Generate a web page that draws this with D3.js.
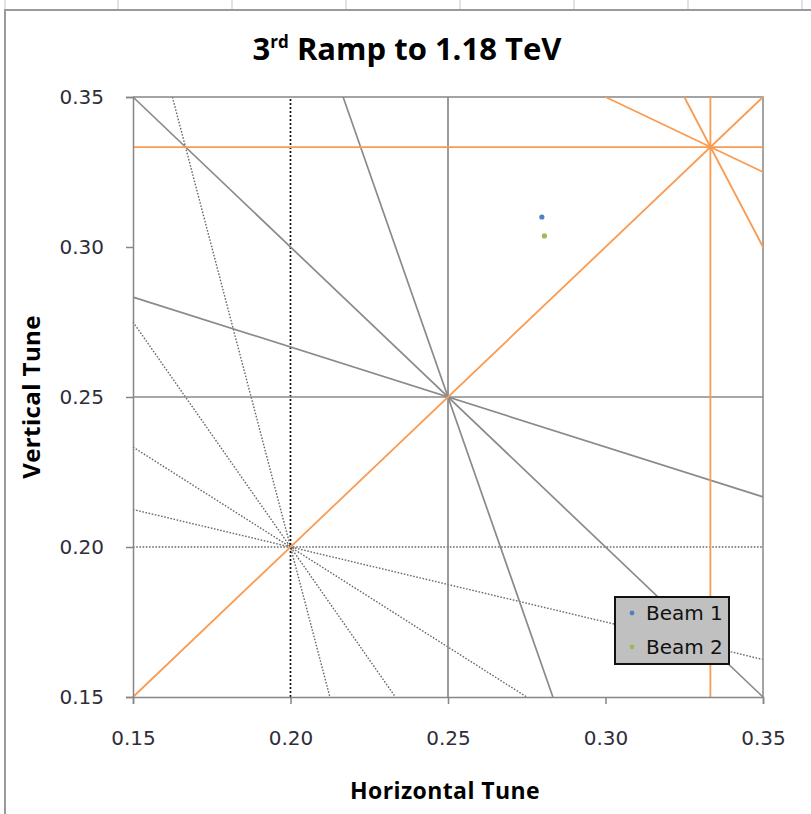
<!DOCTYPE html>
<html>
<head>
<meta charset="utf-8">
<script src="https://cdn.jsdelivr.net/npm/d3@7"></script>
<style>
  body { margin: 0; background: #fff; }
  svg { display: block; }
  .tick text { font-family: "DejaVu Sans", Verdana, sans-serif; font-size: 20px; fill: #2e2e3a; }
  .axes path, .axes line { stroke: #868686; stroke-width: 1.5px; }
</style>
</head>
<body>
<svg id="chart"></svg>
<script>
// axis ticks
var xTicks = [0.15, 0.20, 0.25, 0.30, 0.35];
var yTicks = [0.15, 0.20, 0.25, 0.30, 0.35];

// resonance lines, endpoints [x1, y1, x2, y2]
// 4th order through (0.25, 0.25), solid grey
var grayLines = [
  [0.25, 0.15, 0.25, 0.35],
  [0.15, 0.25, 0.35, 0.25],
  [0.15, 0.35, 0.35, 0.15],
  [0.15, 0.2833, 0.35, 0.2167],
  [0.2167, 0.35, 0.2833, 0.15]
];
// 5th order through (0.20, 0.20), dotted
var dotLines = [
  [0.15, 0.20, 0.35, 0.20],
  [0.1625, 0.35, 0.2125, 0.15],
  [0.15, 0.275, 0.2333, 0.15],
  [0.15, 0.2333, 0.275, 0.15],
  [0.15, 0.2125, 0.35, 0.1625]
];
var dotVertical = [[0.20, 0.15, 0.20, 0.35]];
// 3rd order through (1/3, 1/3), orange
var orangeLines = [
  [0.15, 0.15, 0.35, 0.35],
  [0.15, 0.3333, 0.35, 0.3333],
  [0.3333, 0.15, 0.3333, 0.35],
  [0.30, 0.35, 0.35, 0.325],
  [0.325, 0.35, 0.35, 0.30]
];

// measured tunes
var beams = ['Beam 1', 'Beam 2'];
var beamColors = ['#4F81BD', '#9BBB59'];
var qh = [0.2798, 0.2806];
var qv = [0.3100, 0.3037];

var W = 811, H = 814;
var margin = {top: 97, right: 48, bottom: 117, left: 133};
var width = W - margin.left - margin.right;
var height = H - margin.top - margin.bottom;

var root = d3.select('#chart')
    .attr('width', W)
    .attr('height', H);

// spreadsheet cell lines above the chart and the chart frame
var cols = [5, 118, 232, 346, 460, 574, 688, 802];
root.selectAll('.cell').data(cols).enter().append('line')
    .attr('x1', d => d).attr('x2', d => d)
    .attr('y1', 0).attr('y2', 9)
    .attr('stroke', '#d4d8e2').attr('stroke-width', 1.5);
root.append('path')
    .attr('d', 'M5,' + H + 'V10H' + W)
    .attr('fill', 'none')
    .attr('stroke', '#9a9a9a')
    .attr('stroke-width', 2);

var svg = root.append('g')
    .attr('transform', 'translate(' + margin.left + ',' + margin.top + ')');

var x = d3.scaleLinear().domain([0.15, 0.35]).range([0, width]);
var y = d3.scaleLinear().domain([0.15, 0.35]).range([height, 0]);

function drawLines(data, cls, color, w, dash){
    svg.selectAll('.' + cls).data(data).enter().append('line')
        .attr('class', cls)
        .attr('x1', d => x(d[0])).attr('y1', d => y(d[1]))
        .attr('x2', d => x(d[2])).attr('y2', d => y(d[3]))
        .attr('stroke', color)
        .attr('stroke-width', w)
        .attr('stroke-dasharray', dash);
}

drawLines(dotLines, 'dot', '#6a6a6a', 1.4, '1.6,1.6');
drawLines(dotVertical, 'dotv', '#111', 1.7, '2,2');
drawLines(grayLines, 'gray', '#8a8a8a', 1.7, null);

// plot area border (top and right)
svg.append('path')
    .attr('d', 'M0,0H' + width + 'V' + height)
    .attr('fill', 'none')
    .attr('stroke', '#868686')
    .attr('stroke-width', 1.5);

drawLines(orangeLines, 'orange', '#F99B52', 1.8, null);

// axes
svg.append('g')
    .attr('class', 'axes')
    .attr('transform', 'translate(0,' + height + ')')
    .call(d3.axisBottom(x).tickValues(xTicks).tickFormat(d3.format('.2f')).tickSizeOuter(0).tickSize(7).tickPadding(27));
svg.append('g')
    .attr('class', 'axes')
    .call(d3.axisLeft(y).tickValues(yTicks).tickFormat(d3.format('.2f')).tickSizeOuter(0).tickSize(7).tickPadding(22));

// beam tunes
svg.selectAll('.beam').data(beams).enter().append('circle')
    .attr('class', 'beam')
    .attr('cx', (d, i) => x(qh[i]))
    .attr('cy', (d, i) => y(qv[i]))
    .attr('r', 2.6)
    .attr('fill', (d, i) => beamColors[i]);

// titles
root.append('text')
    .attr('x', 407).attr('y', 60)
    .attr('text-anchor', 'middle')
    .style('font-family', '"Open Sans", sans-serif')
    .style('font-weight', 'bold')
    .style('font-size', '31px')
    .html('3<tspan font-size="17px" dy="-12">rd</tspan><tspan dy="12"> Ramp to 1.18 TeV</tspan>');

root.append('text')
    .attr('x', 445).attr('y', 799)
    .attr('text-anchor', 'middle')
    .style('font-family', '"Open Sans", sans-serif')
    .style('font-weight', 'bold')
    .style('font-size', '23px')
    .style('letter-spacing', '0.4px')
    .text('Horizontal Tune');

root.append('text')
    .attr('transform', 'translate(40,397) rotate(-90)')
    .attr('text-anchor', 'middle')
    .style('font-family', '"Open Sans", sans-serif')
    .style('font-weight', 'bold')
    .style('font-size', '24px')
    .style('letter-spacing', '0.4px')
    .text('Vertical Tune');

// legend
var lg = root.append('g').attr('transform', 'translate(615,597)');
lg.append('rect')
    .attr('width', 114).attr('height', 67)
    .attr('fill', '#c0c0c0')
    .attr('stroke', '#111')
    .attr('stroke-width', 2);
var item = lg.selectAll('.item').data(beams).enter().append('g')
    .attr('class', 'item')
    .attr('transform', (d, i) => 'translate(0,' + (16 + i * 34) + ')');
item.append('circle')
    .attr('cx', 17).attr('cy', 0).attr('r', 2.4)
    .attr('fill', (d, i) => beamColors[i]);
item.append('text')
    .attr('x', 31).attr('y', 7)
    .style('font-family', '"DejaVu Sans", Verdana, sans-serif')
    .style('font-size', '20px')
    .attr('fill', '#111')
    .text(d => d);
</script>
</body>
</html>
